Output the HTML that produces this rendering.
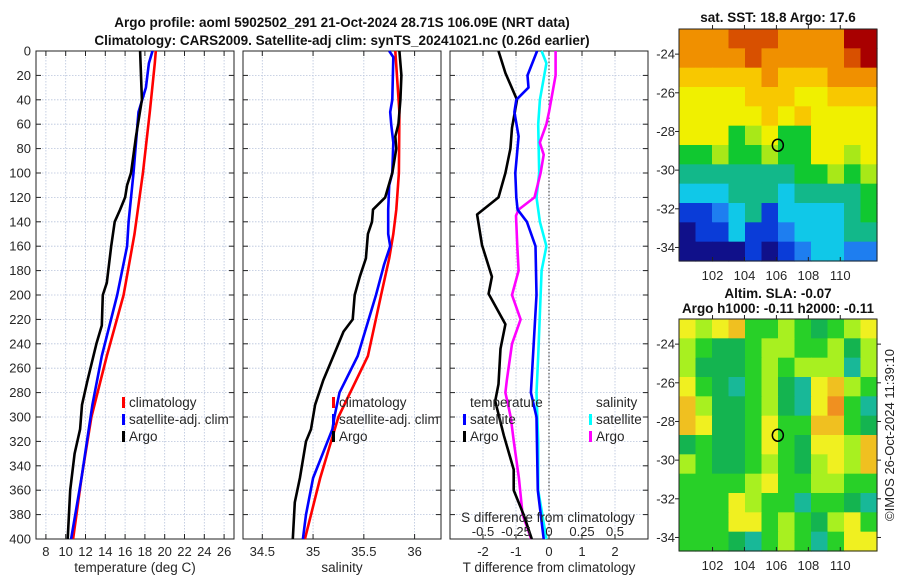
<!DOCTYPE html>
<html><head><meta charset="utf-8"><style>
html,body{margin:0;padding:0;background:#fff;}
svg{display:block;font-family:"Liberation Sans",sans-serif;}
</style></head><body>
<svg id="fig" width="900" height="580" viewBox="0 0 900 580">
<text x="342" y="27" text-anchor="middle" font-size="13.5" font-weight="bold" fill="#111">Argo profile: aoml 5902502_291 21-Oct-2024 28.71S 106.09E (NRT data)</text>
<text x="342" y="45" text-anchor="middle" font-size="13.5" font-weight="bold" fill="#111">Climatology: CARS2009. Satellite-adj clim: synTS_20241021.nc (0.26d earlier)</text>
<text x="778" y="22" text-anchor="middle" font-size="13.5" font-weight="bold" fill="#111">sat. SST: 18.8 Argo: 17.6</text>
<text x="778" y="298" text-anchor="middle" font-size="13.5" font-weight="bold" fill="#111">Altim. SLA: -0.07</text>
<text x="778" y="313" text-anchor="middle" font-size="13.5" font-weight="bold" fill="#111">Argo h1000: -0.11 h2000: -0.11</text>
<text transform="translate(894,435) rotate(-90)" text-anchor="middle" font-size="13" fill="#222">©IMOS 26-Oct-2024 11:39:10</text>
<g id="g"></g>
</svg>
<script>
// ---- profile data ----
const tempClimDepth=[0,10,50,100,150,200,250,300,350,400];
const tempClim=[19.1,19.0,18.5,17.8,16.95,15.85,14.15,12.6,11.6,10.75];
const tempSatDepth=[0,10,30,50,100,140,160,200,250,290,350,400];
const tempSat=[18.77,18.4,18.1,17.35,16.85,16.35,16.2,15.2,13.65,12.7,11.6,10.55];
const tempArgoDepth=[0,40,50,70,100,110,120,130,140,160,190,200,225,240,270,290,310,330,360,400];
const tempArgo=[17.52,17.7,17.5,17.1,16.6,16.2,16.0,15.5,14.95,14.6,14.15,13.75,13.65,13.1,12.2,11.65,11.45,10.9,10.45,10.2];
const salClimDepth=[0,50,100,130,150,170,200,250,300,350,400];
const salClim=[35.81,35.85,35.845,35.82,35.79,35.75,35.67,35.54,35.25,35.07,34.92];
const salSatDepth=[0,5,40,50,60,75,100,110,130,150,160,175,200,250,280,300,310,350,380,400];
const salSat=[35.75,35.79,35.78,35.76,35.77,35.79,35.78,35.75,35.74,35.74,35.76,35.70,35.62,35.44,35.26,35.21,35.19,35.0,34.93,34.9];
const salArgoDepth=[0,20,40,60,70,80,90,100,120,130,140,150,170,185,200,220,230,250,270,290,310,320,350,370,400];
const salArgo=[35.85,35.87,35.86,35.84,35.81,35.82,35.80,35.78,35.71,35.59,35.58,35.54,35.52,35.46,35.41,35.39,35.30,35.20,35.10,35.02,34.98,34.93,34.87,34.82,34.80];
const dTArgoDepth=[0,18,40,63,80,100,120,134,159,185,199,224,244,273,287,315,343,360,380,400];
const dTArgo=[-1.53,-1.32,-0.97,-1.12,-1.17,-1.32,-1.53,-2.18,-2.03,-1.73,-1.83,-1.32,-1.47,-1.53,-1.63,-1.37,-1.07,-1.07,-0.77,-0.52];
const dTSatDepth=[0,20,30,40,50,70,100,120,130,140,160,200,280,300,360,400];
const dTSat=[-0.36,-0.65,-0.62,-0.99,-1.05,-0.92,-1.02,-0.99,-0.95,-0.67,-0.41,-0.38,-0.55,-0.38,-0.34,-0.16];
const dSSatDepth=[0,10,40,60,100,120,140,160,180,250,280,320,360,400];
const dSSat=[-0.056,-0.02,-0.069,-0.082,-0.074,-0.095,-0.069,-0.02,-0.056,-0.082,-0.095,-0.082,-0.082,-0.02];
const dSArgoDepth=[0,20,50,60,75,85,100,120,130,135,160,180,200,220,240,270,280,300,320,350,380,400];
const dSArgo=[0.05,0.05,0,-0.02,-0.07,-0.04,-0.064,-0.11,-0.23,-0.25,-0.24,-0.23,-0.28,-0.215,-0.28,-0.32,-0.33,-0.29,-0.267,-0.228,-0.20,-0.135];
// ---- map data (grid rows top->bottom, cols west->east) ----
const sstGrid=[
[9,9,9,10,10,10,9,9,9,9,11,11],
[9,9,9,9,10,9,9,9,9,9,10,11],
[8,8,8,8,8,9,8,8,8,9,9,9],
[7,7,7,7,8,8,8,7,7,8,8,8],
[7,7,7,7,7,8,7,8,7,7,7,7],
[7,7,7,5,6,7,5,5,7,7,7,7],
[5,5,6,5,5,6,5,5,7,7,6,7],
[4,4,4,4,4,4,4,5,5,6,5,6],
[3,3,3,4,4,4,3,4,4,4,4,5],
[1,1,2,3,4,1,3,3,3,3,4,5],
[0,1,1,3,1,1,2,3,3,3,4,4],
[0,0,0,0,1,0,1,2,3,3,2,2]];
const slaGrid=[
[5,4,5,6,3,3,4,3,2,3,4,5],
[4,3,2,2,3,4,4,3,3,4,2,4],
[4,2,2,2,3,4,3,4,4,4,1,4],
[5,3,2,1,3,4,2,1,5,6,4,3],
[6,4,2,2,3,4,2,1,5,7,3,1],
[6,5,2,2,3,5,3,3,6,6,3,2],
[2,3,2,2,3,5,3,2,5,5,4,6],
[4,3,2,2,3,4,3,2,4,5,4,6],
[3,3,3,3,4,5,3,3,4,4,3,3],
[3,3,3,5,4,3,3,1,3,3,2,1],
[3,3,3,5,5,3,4,3,2,4,5,3],
[3,3,3,2,1,3,4,3,1,3,5,5]];
const argoLon=106.09, argoLat=-28.71;
const depthTicks=[0,20,40,60,80,100,120,140,160,180,200,220,240,260,280,300,320,340,360,380,400];
const tempTicks=[8,10,12,14,16,18,20,22,24,26];
const salTicks=[34.5,35,35.5,36];
const dTTicks=[-2,-1,0,1,2];
const dSTicks=[-0.5,-0.25,0,0.25,0.5];
const dSTickLabels=["-0.5","-0.25","0","0.25","0.5"];
const lonTicks=[102,104,106,108,110];
const latTicks=[-24,-26,-28,-30,-32,-34];

const NS="http://www.w3.org/2000/svg";
const G=document.getElementById('g');
function mk(tag,attrs,parent){const e=document.createElementNS(NS,tag);for(const k in attrs)e.setAttribute(k,attrs[k]);(parent||G).appendChild(e);return e;}
function txt(x,y,s,size,anchor,parent){const t=mk('text',{x:x,y:y,'font-size':size,'text-anchor':anchor,fill:'#262626'},parent);t.textContent=s;return t;}
const Y0=51,Y1=539;
function yD(d){return Y0+(d/400)*(Y1-Y0);}
function scale(a,b,p0,p1){return v=>p0+(v-a)/(b-a)*(p1-p0);}
const panels=[
 {x0:36,x1:234,name:'temperature-panel',xs:scale(7,27,36,234),ticks:tempTicks,lab:'temperature (deg C)'},
 {x0:243,x1:441,name:'salinity-panel',xs:scale(34.31,36.26,243,441),ticks:salTicks,lab:'salinity'},
 {x0:450,x1:648,name:'difference-panel',xs:scale(-3,3,450,648),ticks:dTTicks,lab:'T difference from climatology'}];
const dsx=scale(-0.75,0.75,450,648);
panels.forEach((p,i)=>{
 const g=mk('g',{});
 
 
 depthTicks.forEach(d=>{const l=mk('line',{x1:p.x0,x2:p.x1,y1:yD(d),y2:yD(d),stroke:'#b8c4dc','stroke-width':0.8,'stroke-dasharray':'1.5 1.5'},g);
   
   mk('line',{x1:p.x0,x2:p.x0+5,y1:yD(d),y2:yD(d),stroke:'#222'},g);mk('line',{x1:p.x1,x2:p.x1-5,y1:yD(d),y2:yD(d),stroke:'#222'},g);
   if(i===0){const t=txt(p.x0-5,yD(d)+4.5,String(d),13,'end',g);}});
 p.ticks.forEach(v=>{const x=p.xs(v);mk('line',{x1:x,x2:x,y1:Y0,y2:Y1,stroke:'#b8c4dc','stroke-width':0.8,'stroke-dasharray':'1.5 1.5'},g);
   mk('line',{x1:x,x2:x,y1:Y1,y2:Y1-5,stroke:'#222'},g);mk('line',{x1:x,x2:x,y1:Y0,y2:Y0+5,stroke:'#222'},g);
   const t=txt(x,556,String(v),13,'middle',g);});
 const xl=txt((p.x0+p.x1)/2,572,p.lab,13.5,'middle',g);
 
 if(i===2){mk('line',{x1:p.xs(0),x2:p.xs(0),y1:Y0,y2:Y1,stroke:'#333','stroke-width':1,'stroke-dasharray':'1.5 2'},g);}
 mk('rect',{x:p.x0,y:Y0,width:p.x1-p.x0,height:Y1-Y0,fill:'none',stroke:'#222','stroke-width':1},g);
});
function series(ds,vs,xs,color,name){const pts=ds.map((d,k)=>xs(vs[k]).toFixed(1)+','+yD(d).toFixed(1)).join(' ');
 const l=mk('polyline',{points:pts,fill:'none',stroke:color,'stroke-width':2.6,'stroke-linejoin':'round'});
 }
series(tempClimDepth,tempClim,panels[0].xs,'#ff0000','temp-climatology-line');
series(tempSatDepth,tempSat,panels[0].xs,'#0000ff','temp-satellite-line');
series(tempArgoDepth,tempArgo,panels[0].xs,'#000000','temp-argo-line');
series(salClimDepth,salClim,panels[1].xs,'#ff0000','sal-climatology-line');
series(salSatDepth,salSat,panels[1].xs,'#0000ff','sal-satellite-line');
series(salArgoDepth,salArgo,panels[1].xs,'#000000','sal-argo-line');
series(dSSatDepth,dSSat,dsx,'#00ffff','sdiff-satellite-line');
series(dSArgoDepth,dSArgo,dsx,'#ff00ff','sdiff-argo-line');
series(dTArgoDepth,dTArgo,panels[2].xs,'#000000','tdiff-argo-line');
series(dTSatDepth,dTSat,panels[2].xs,'#0000ff','tdiff-satellite-line');
// S diff labels
let t=txt(548,522,'S difference from climatology',13.5,'middle');
dSTicks.forEach((v,k)=>{const tt=txt(dsx(v),536,dSTickLabels[k],13,'middle');});
// legends
function legend(x,y,color,label,name){const g=mk('g',{});
 mk('rect',{x:x-7,y:y-10,width:3,height:11,fill:color},g);txt(x,y,label,13.5,'start',g);}
legend(129,407,'#ff0000','climatology','legend-climatology');
legend(129,424,'#0000ff','satellite-adj. clim','legend-satellite-adj');
legend(129,441,'#000000','Argo','legend-argo');
legend(339,407,'#ff0000','climatology','legend-sal-climatology');
legend(339,424,'#0000ff','satellite-adj. clim','legend-sal-satellite-adj');
legend(339,441,'#000000','Argo','legend-sal-argo');
t=txt(470,407,'temperature',13.5,'start');
legend(470,424,'#0000ff','satellite','legend-tdiff-satellite');
legend(470,441,'#000000','Argo','legend-tdiff-argo');
t=txt(596,407,'salinity',13.5,'start');
legend(596,424,'#00ffff','satellite','legend-sdiff-satellite');
legend(596,441,'#ff00ff','Argo','legend-sdiff-argo');
// maps
const sstPal=['#10108a','#0a3cd8','#1e7ef0','#10c8e8','#12b88a','#10c830','#a8e818','#f0f000','#f8c800','#f09000','#d85000','#a80000'];
const slaPal=['#20e0e8','#18b898','#14b450','#28d028','#a8f020','#f0f020','#f0c020','#f09020'];
const mapLon0=99.9,mapLon1=112.3,mapLatTop=-22.7,mapLatBot=-34.7;
function drawMap(top,grid,pal,name,rightTicks){
 const g=mk('g',{});
 const bot=top+232, lx=scale(mapLon0,mapLon1,679,877), ly=scale(mapLatTop,mapLatBot,top,bot);
 const nr=grid.length,nc=grid[0].length,dlon=(mapLon1-mapLon0)/nc,dlat=(mapLatBot-mapLatTop)/nr;
 grid.forEach((row,r)=>row.forEach((v,c)=>{const x=lx(mapLon0+c*dlon),y=ly(mapLatTop+r*dlat);
  const cell=mk('rect',{x:x.toFixed(2),y:y.toFixed(2),width:(lx(mapLon0+(c+1)*dlon)-x+0.6).toFixed(2),height:(ly(mapLatTop+(r+1)*dlat)-y+0.6).toFixed(2),fill:pal[v]},g);
  }));
 mk('rect',{x:679,y:top,width:198,height:232,fill:'none',stroke:'#222'},g);
 lonTicks.forEach(v=>{const x=lx(v);mk('line',{x1:x,x2:x,y1:bot,y2:bot-4,stroke:'#222'},g);mk('line',{x1:x,x2:x,y1:top,y2:top-4,stroke:'#222'},g);
  const tt=txt(x,bot+19,String(v),13,'middle',g);});
 latTicks.forEach(v=>{const y=ly(v);mk('line',{x1:679,x2:675,y1:y,y2:y,stroke:'#222'},g);
  if(rightTicks)mk('line',{x1:877,x2:881,y1:y,y2:y,stroke:'#222'},g);
  const tt=txt(675,y+4.5,String(v),13,'end',g);});
 const m=mk('ellipse',{cx:lx(argoLon),cy:ly(argoLat),rx:5.5,ry:6,fill:'none',stroke:'#000','stroke-width':1.5},g);
 
}
drawMap(29,sstGrid,sstPal,'sst-map',false);
drawMap(319,slaGrid,slaPal,'sla-map',true);
</script>
</body></html>
